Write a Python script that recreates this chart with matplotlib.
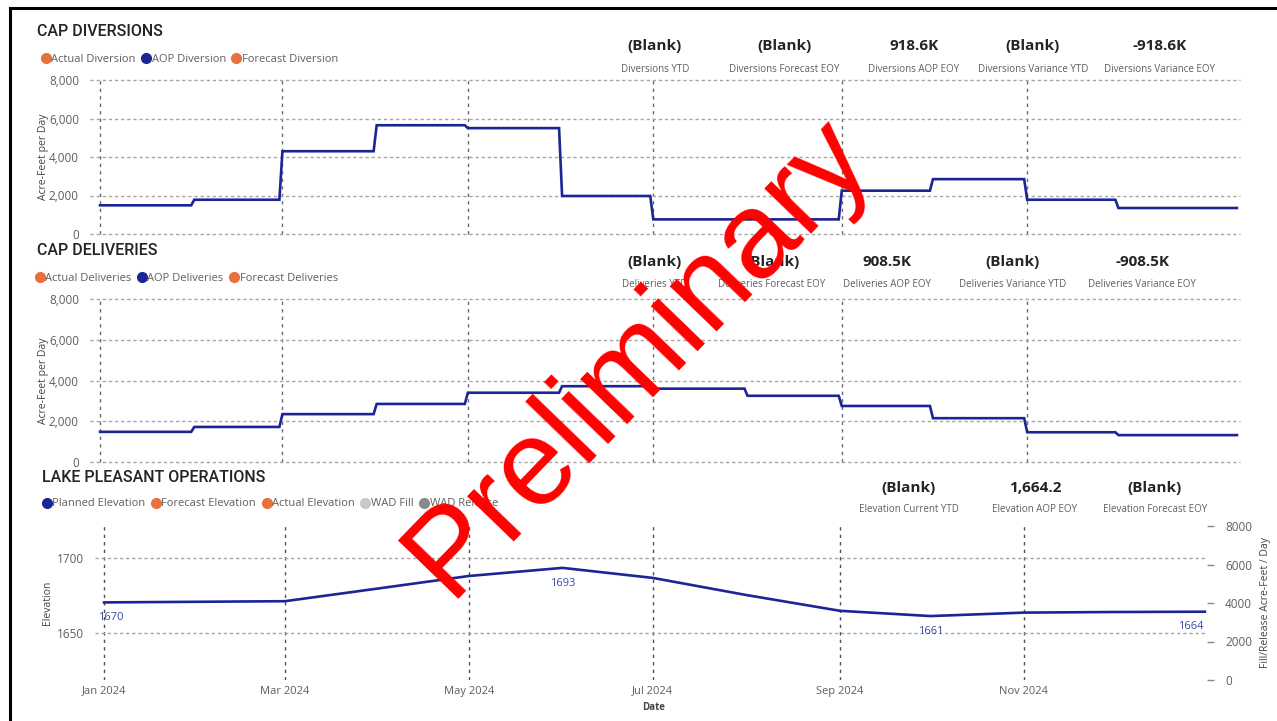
import matplotlib
matplotlib.use('Agg')
import matplotlib.pyplot as plt
import matplotlib.dates as mdates
from matplotlib.lines import Line2D
from matplotlib.ticker import FuncFormatter
import pandas as pd

plt.rcParams['font.family'] = ['Open Sans', 'DejaVu Sans']
plt.rcParams['lines.scale_dashes'] = False

# ---------------- data ----------------
month_starts = ['2024-01-01', '2024-02-01', '2024-03-01', '2024-04-01',
                '2024-05-01', '2024-06-01', '2024-07-01', '2024-08-01',
                '2024-09-01', '2024-10-01', '2024-11-01', '2024-12-01']
series_end = '2025-01-09'
aop_diversion = [1490, 1780, 4300, 5650, 5500, 1975, 760, 760, 2250, 2850, 1780, 1350]
aop_deliveries = [1480, 1720, 2350, 2850, 3400, 3720, 3600, 3250, 2750, 2150, 1460, 1320]

elev_dates = ['2024-01-01', '2024-02-01', '2024-03-01', '2024-04-01', '2024-05-01',
              '2024-06-01', '2024-07-01', '2024-08-01', '2024-09-01', '2024-10-01',
              '2024-11-01', '2024-12-01', '2024-12-31']
planned_elev = [1670.4, 1670.8, 1671.2, 1679.7, 1688.0, 1693.4, 1686.7, 1675.3,
                1664.8, 1661.3, 1663.6, 1664.0, 1664.2]
elev_label_idx = [0, 5, 9, 12]

tick_dates = ['2024-01-01', '2024-03-01', '2024-05-01', '2024-07-01', '2024-09-01', '2024-11-01']

div_kpi_values = ['(Blank)', '(Blank)', '918.6K', '(Blank)', '-918.6K']
div_kpi_labels = ['Diversions YTD', 'Diversions Forecast EOY', 'Diversions AOP EOY',
                  'Diversions Variance YTD', 'Diversions Variance EOY']
del_kpi_values = ['(Blank)', '(Blank)', '908.5K', '(Blank)', '-908.5K']
del_kpi_labels = ['Deliveries YTD', 'Deliveries Forecast EOY', 'Deliveries AOP EOY',
                  'Deliveries Variance YTD', 'Deliveries Variance EOY']
elev_kpi_values = ['(Blank)', '1,664.2', '(Blank)']
elev_kpi_labels = ['Elevation Current YTD', 'Elevation AOP EOY', 'Elevation Forecast EOY']

div_legend = ['Actual Diversion', 'AOP Diversion', 'Forecast Diversion']
del_legend = ['Actual Deliveries', 'AOP Deliveries', 'Forecast Deliveries']
elev_legend = ['Planned Elevation', 'Forecast Elevation', 'Actual Elevation', 'WAD Fill', 'WAD Release']

# ---------------- styling ----------------
NAVY = '#1B2595'
ORANGE = '#E8703A'
LGRAY = '#C8C8C8'
MGRAY = '#8A8A8A'
TXT = '#252423'
SUB = '#605E5C'
HGRID = '#A6A6A6'
VGRID = '#6A6A6A'

W, H = 1277, 721
fig = plt.figure(figsize=(W / 100, H / 100), dpi=100)


def rect(l, t, r, b):
    return [l / W, 1 - b / H, (r - l) / W, (b - t) / H]


def fx(x):
    return x / W


def fy(y):
    return 1 - y / H


def step_xy(starts, vals, end):
    s = pd.to_datetime(starts)
    e = list(s[1:] - pd.Timedelta(days=1)) + [pd.Timestamp(end)]
    xs, ys = [], []
    for a, b, v in zip(s, e, vals):
        xs += [a, b]
        ys += [v, v]
    return xs, ys


ticks = pd.to_datetime(tick_dates)
jan1 = pd.Timestamp('2024-01-01')


def unclip_grid(ax):
    for ln in ax.get_ygridlines() + ax.get_xgridlines():
        ln.set_clip_on(False)


def style_top(ax):
    for sp in ax.spines.values():
        sp.set_visible(False)
    ax.set_ylim(0, 8000)
    ax.set_yticks([0, 2000, 4000, 6000, 8000])
    ax.yaxis.set_major_formatter(FuncFormatter(lambda v, p: f'{v:,.0f}'))
    ax.set_xticks(ticks)
    ax.set_xlim(jan1 - pd.Timedelta(days=3.3), jan1 + pd.Timedelta(days=375))
    ax.tick_params(axis='x', length=0, labelbottom=False)
    ax.tick_params(axis='y', length=0, pad=8, labelsize=8.5, labelcolor=SUB)
    ax.grid(axis='y', color=HGRID, linestyle=(0, (2.4, 2.0)), linewidth=1.0)
    ax.grid(axis='x', color=VGRID, linestyle=(0, (2.4, 3.0)), linewidth=1.0)
    ax.set_ylabel('Acre-Feet per Day', fontsize=7.5, color='#444444', labelpad=0)
    unclip_grid(ax)


def legend_at(labels, colors, x, y):
    handles = [Line2D([], [], marker='o', linestyle='none', markersize=7,
                      markerfacecolor=c, markeredgecolor=c) for c in colors]
    leg = fig.legend(handles, labels, loc='center left', bbox_to_anchor=(fx(x), fy(y)),
                     ncol=len(labels), frameon=False, fontsize=8, handletextpad=0.0,
                     columnspacing=0.45, borderaxespad=0, borderpad=0, handlelength=1.0)
    for t in leg.get_texts():
        t.set_color(SUB)
    return leg


def kpis(values, labels, centers, yv, yl):
    for v, l, c in zip(values, labels, centers):
        fig.text(fx(c), fy(yv), v, ha='center', va='center', fontsize=11,
                 fontweight='bold', color=TXT)
        fig.text(fx(c), fy(yl), l, ha='center', va='center', fontsize=7, color=SUB)


# ---------------- CAP DIVERSIONS ----------------
ax1 = fig.add_axes(rect(90, 80, 1240, 234))
style_top(ax1)
xs, ys = step_xy(month_starts, aop_diversion, series_end)
ax1.plot(xs, ys, color=NAVY, linewidth=1.9, solid_joinstyle='miter')
fig.text(fx(37), fy(31), 'CAP DIVERSIONS', ha='left', va='center', fontsize=11.5,
         color=TXT, family=['Roboto', 'DejaVu Sans'], fontweight='medium')
legend_at(div_legend, [ORANGE, NAVY, ORANGE], 40, 59)
kpis(div_kpi_values, div_kpi_labels, [655, 784, 914, 1033, 1160], 46, 69)

# ---------------- CAP DELIVERIES ----------------
ax2 = fig.add_axes(rect(90, 299, 1240, 462))
style_top(ax2)
xs, ys = step_xy(month_starts, aop_deliveries, series_end)
ax2.plot(xs, ys, color=NAVY, linewidth=1.9, solid_joinstyle='miter')
fig.text(fx(37), fy(250), 'CAP DELIVERIES', ha='left', va='center', fontsize=11.5,
         color=TXT, family=['Roboto', 'DejaVu Sans'], fontweight='medium')
legend_at(del_legend, [ORANGE, NAVY, ORANGE], 34, 278)
kpis(del_kpi_values, del_kpi_labels, [655, 772, 887, 1013, 1142], 262, 284)

# ---------------- LAKE PLEASANT OPERATIONS ----------------
ax3 = fig.add_axes(rect(95, 526, 1207, 680))
for sp in ax3.spines.values():
    sp.set_visible(False)
ed = pd.to_datetime(elev_dates)
ax3.plot(ed, planned_elev, color=NAVY, linewidth=1.9)
ax3.set_ylim(1618.7, 1721.3)
ax3.set_yticks([1650, 1700])
ax3.set_xticks(ticks)
ax3.xaxis.set_major_formatter(mdates.DateFormatter('%b %Y'))
ax3.set_xlim(jan1 - pd.Timedelta(days=3.0), jan1 + pd.Timedelta(days=365.7))
ax3.tick_params(axis='x', length=0, pad=4, labelsize=8, labelcolor=SUB)
ax3.tick_params(axis='y', length=0, pad=8, labelsize=8.5, labelcolor=SUB)
ax3.grid(axis='y', color=HGRID, linestyle=(0, (2.4, 2.0)), linewidth=1.0)
ax3.grid(axis='x', color='#505050', linestyle=(0, (2.4, 3.0)), linewidth=1.0)
ax3.set_ylabel('Elevation', fontsize=7.5, color='#444444', labelpad=3)
for i in elev_label_idx:
    dx = 0
    if i == 0:
        dx = 5
    if i == len(planned_elev) - 1:
        dx = -10
    ax3.annotate(f'{planned_elev[i]:.0f}', (ed[i], planned_elev[i]),
                 xytext=(dx, -11), textcoords='offset points', ha='center', va='center',
                 fontsize=8, color='#3A4A9E')

ax3r = ax3.twinx()
for sp in ax3r.spines.values():
    sp.set_visible(False)
ax3r.set_ylim(0, 8000)
ax3r.set_yticks([0, 2000, 4000, 6000, 8000])
ax3r.tick_params(axis='y', length=5, width=1, color='#8A8A8A', pad=8,
                 labelsize=8.5, labelcolor=SUB)
ax3r.set_ylabel('Fill/Release Acre-Feet / Day', fontsize=7.5, color='#444444', labelpad=6)

fig.text(fx(654), fy(707), 'Date', ha='center', va='center', fontsize=7,
         fontweight='bold', color='#444444')
fig.text(fx(42), fy(478), 'LAKE PLEASANT OPERATIONS', ha='left', va='center', fontsize=11.5,
         color=TXT, family=['Roboto', 'DejaVu Sans'], fontweight='medium')
legend_at(elev_legend, [NAVY, ORANGE, ORANGE, LGRAY, MGRAY], 41, 504)
kpis(elev_kpi_values, elev_kpi_labels, [909, 1035, 1155], 488, 510)

# ---------------- frame ----------------
fig.add_artist(Line2D([fx(10), fx(10)], [fy(8), fy(730)], color='black', linewidth=2.2))
fig.add_artist(Line2D([fx(10), fx(1290)], [fy(8), fy(8)], color='black', linewidth=2.2))

# ---------------- watermark ----------------
fig.text(fx(638), fy(357), 'Preliminary', rotation=46, rotation_mode='anchor',
         ha='center', va='center', fontsize=88, color='#FF0000',
         family=['Liberation Sans', 'DejaVu Sans'], zorder=10)

fig.savefig('out.png', dpi=100)
